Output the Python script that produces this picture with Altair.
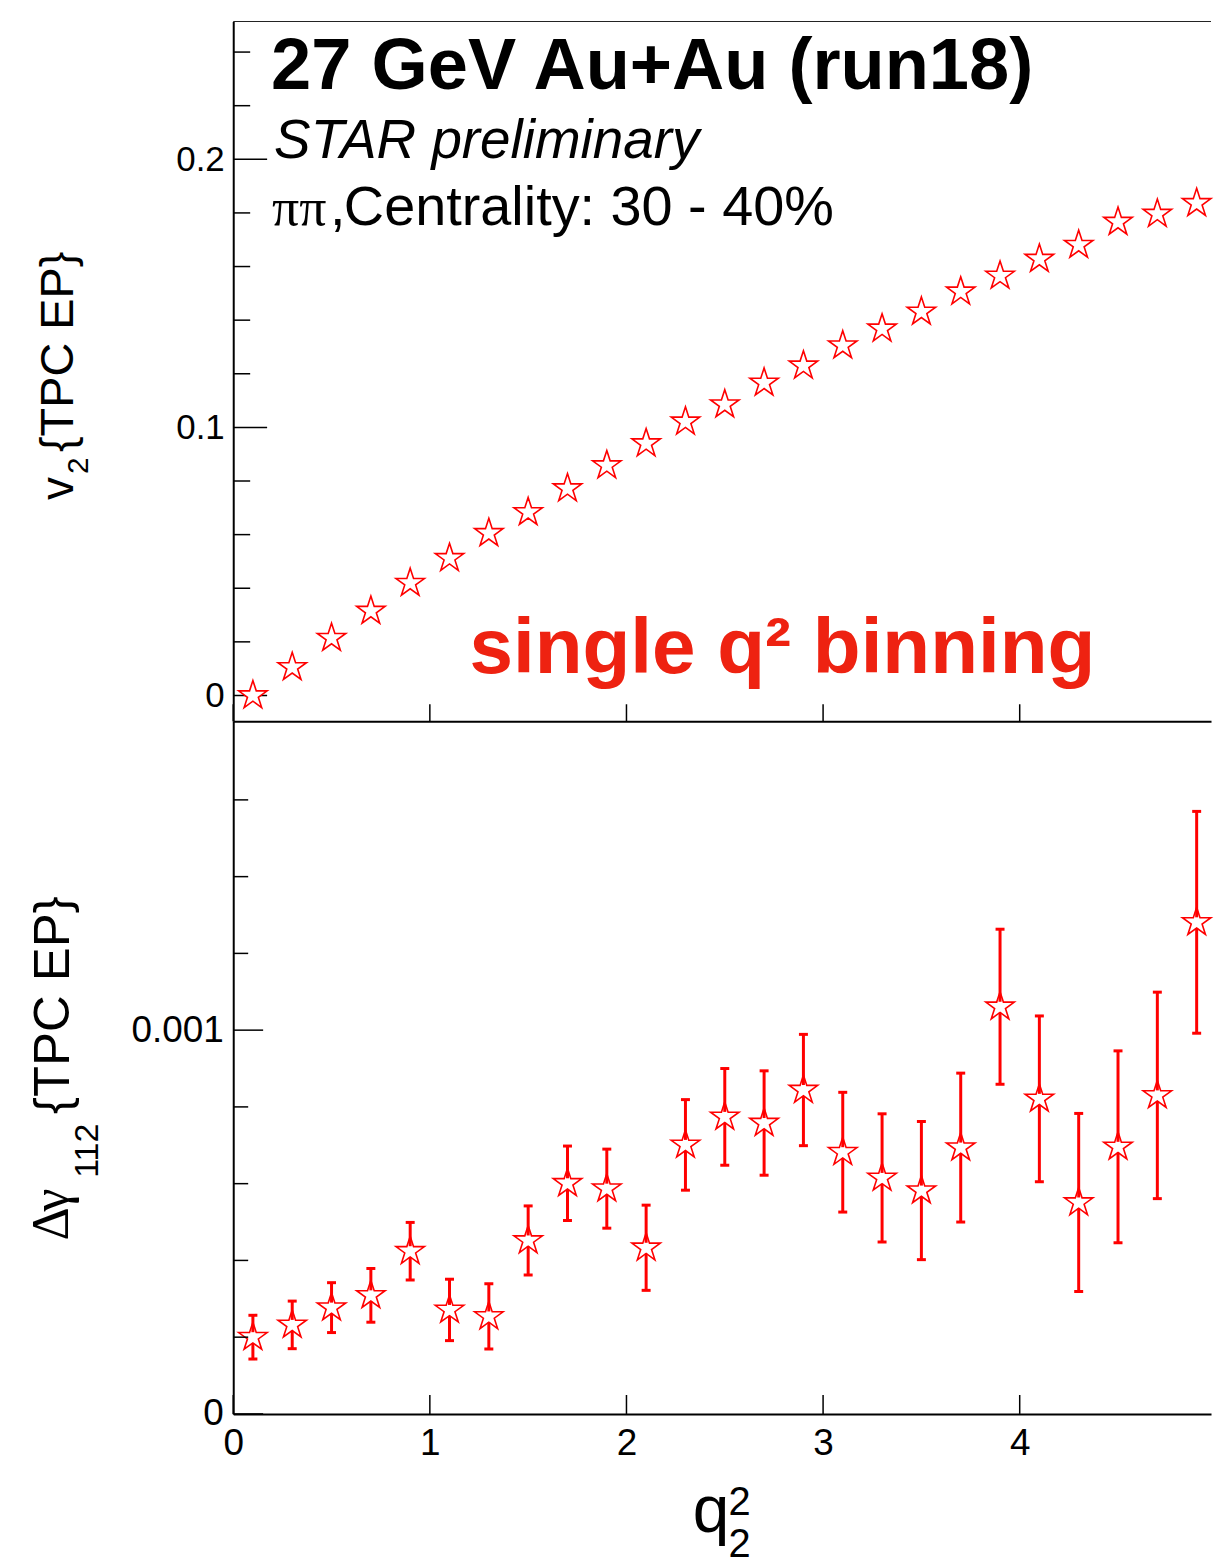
import altair as alt
import pandas as pd

# ---- data -------------------------------------------------------------
q2 = [0.1, 0.3, 0.5, 0.7, 0.9, 1.1, 1.3, 1.5, 1.7, 1.9, 2.1, 2.3, 2.5,
      2.7, 2.9, 3.1, 3.3, 3.5, 3.7, 3.9, 4.1, 4.3, 4.5, 4.7, 4.9]

v2 = [0.0000, 0.0105, 0.0214, 0.0315, 0.0419, 0.0512, 0.0605, 0.0683,
      0.0772, 0.0858, 0.0940, 0.1021, 0.1085, 0.1166, 0.1230, 0.1305,
      0.1368, 0.1431, 0.1506, 0.1565, 0.1628, 0.1680, 0.1766, 0.1796,
      0.1836]

dgamma = [0.000200, 0.000232, 0.000277, 0.000309, 0.000424, 0.000271,
          0.000254, 0.000452, 0.000601, 0.000587, 0.000433, 0.000701,
          0.000774, 0.000758, 0.000844, 0.000682, 0.000615, 0.000582,
          0.000694, 0.001061, 0.000821, 0.000551, 0.000696, 0.000830,
          0.001281]

dgamma_err = [0.000057, 0.000062, 0.000065, 0.000070, 0.000075, 0.000080,
              0.000085, 0.000090, 0.000097, 0.000103, 0.000111, 0.000118,
              0.000126, 0.000136, 0.000145, 0.000156, 0.000167, 0.000180,
              0.000194, 0.000202, 0.000216, 0.000232, 0.000250, 0.000269,
              0.000289]

x_ticks = [0, 1, 2, 3, 4]
v2_major = [0.0, 0.1, 0.2]
v2_minor = [0.02, 0.04, 0.06, 0.08, 0.12, 0.14, 0.16, 0.18, 0.22, 0.24]
dg_major = [0.0, 0.001]
dg_minor = [0.0002, 0.0004, 0.0006, 0.0008, 0.0012, 0.0014, 0.0016]

# ---- style ------------------------------------------------------------
FONT = "Liberation Sans"
SERIF = "Liberation Serif"
RED = "#ff0000"
LABEL_RED = "#ee2211"
STAR = ("M0,-1L0.2245,-0.309L0.9511,-0.309L0.3633,0.118L0.5878,0.809"
        "L0,0.382L-0.5878,0.809L-0.3633,0.118L-0.9511,-0.309L-0.2245,-0.309Z")

W = 981
H_TOP = 702
H_BOT = 695
x_scale = alt.Scale(domain=[0, 4.973], nice=False, zero=False)
v2_scale = alt.Scale(domain=[-0.0096, 0.2514], nice=False, zero=False)
dg_scale = alt.Scale(domain=[0, 0.001805], nice=False, zero=False)

top_x_axis = alt.Axis(labels=False, ticks=False, tickSize=0, grid=False,
                      title=None, domainColor="black", domainWidth=2)
top_y_axis = alt.Axis(values=v2_major, format=".1~f", ticks=False,
                      tickSize=0, grid=False, title=None, labelFontSize=35,
                      labelPadding=9, domainColor="black", domainWidth=2)
bot_x_axis = alt.Axis(values=x_ticks, format="d", ticks=False, tickSize=0,
                      grid=False, title=None, labelFontSize=37,
                      labelPadding=12, labelFlush=False,
                      domainColor="black", domainWidth=2)
bot_y_axis = alt.Axis(values=dg_major, format=".3~f", ticks=False,
                      tickSize=0, grid=False, title=None, labelFontSize=37,
                      labelPadding=10, domainColor="black", domainWidth=2)

top_df = pd.DataFrame({"q2": q2, "v2": v2})
bot_df = pd.DataFrame({
    "q2": q2,
    "dg": dgamma,
    "hi": [v + e for v, e in zip(dgamma, dgamma_err)],
    "lo": [v - e for v, e in zip(dgamma, dgamma_err)],
})


def text(label, x, y, size, font=FONT, angle=0, color="black",
         weight="normal", style="normal"):
    return alt.Chart(pd.DataFrame({"label": [label]})).mark_text(
        font=font, fontSize=size, angle=angle, color=color,
        fontWeight=weight, fontStyle=style, align="left",
        baseline="alphabetic",
    ).encode(x=alt.value(x), y=alt.value(y), text="label:N")


def y_ticks(values, scale, axis, length):
    return alt.Chart(pd.DataFrame({"v": values})).mark_rule(
        color="black", strokeWidth=1.5
    ).encode(
        y=alt.Y("v:Q", scale=scale, axis=axis),
        x=alt.value(0), x2=alt.value(length),
    )


def x_ticks_layer(axis, height, length):
    return alt.Chart(pd.DataFrame({"t": x_ticks})).mark_rule(
        color="black", strokeWidth=1.5
    ).encode(
        x=alt.X("t:Q", scale=x_scale, axis=axis),
        y=alt.value(height), y2=alt.value(height - length),
    )


# ---- upper panel: v2 -------------------------------------------------
v2_points = alt.Chart(top_df).mark_point(
    shape=STAR, size=900, filled=True, fill="white", stroke=RED,
    strokeWidth=1.6, opacity=1,
).encode(
    x=alt.X("q2:Q", scale=x_scale, axis=top_x_axis),
    y=alt.Y("v2:Q", scale=v2_scale, axis=top_y_axis),
)

# white rule far up-left fixes the page origin of the plot frame
anchor = alt.Chart(pd.DataFrame({"a": [0]})).mark_rule(
    color="white", strokeWidth=0.01
).encode(x=alt.value(-233), x2=alt.value(-232), y=alt.value(-18))

# upper frame edge
frame_top = alt.Chart(pd.DataFrame({"a": [0]})).mark_rule(
    color="#222222", strokeWidth=1
).encode(x=alt.value(0), x2=alt.value(W), y=alt.value(0))

top = alt.layer(
    anchor,
    frame_top,
    y_ticks(v2_major, v2_scale, top_y_axis, 34),
    y_ticks(v2_minor, v2_scale, top_y_axis, 17),
    x_ticks_layer(top_x_axis, H_TOP, 17),
    v2_points,
    text("27 GeV Au+Au (run18)", 38, 68, 72.5, weight="bold"),
    text("STAR preliminary", 41, 137, 55, style="italic"),
    text("\u03c0\u03c0", 39, 204, 54, font=SERIF),
    text(",", 97, 204, 56),
    text("Centrality: 30 - 40%", 111, 204, 56),
    text("single q\u00b2 binning", 237, 654, 78.5, color=LABEL_RED,
         weight="bold"),
    text("v", -161, 480, 46, angle=270),
    text("2", -146, 454, 30, angle=270),
    text("{TPC EP}", -161, 432, 47, angle=270),
).properties(width=W, height=H_TOP)

# ---- lower panel: delta gamma ----------------------------------------
dg_points = alt.Chart(bot_df).mark_point(
    shape=STAR, size=900, filled=True, fill="white", stroke=RED,
    strokeWidth=1.6, opacity=1,
).encode(
    x=alt.X("q2:Q", scale=x_scale, axis=bot_x_axis),
    y=alt.Y("dg:Q", scale=dg_scale, axis=bot_y_axis),
)

err_up = alt.Chart(bot_df).mark_rule(
    color=RED, strokeWidth=3, y2Offset=-5
).encode(
    x=alt.X("q2:Q", scale=x_scale, axis=bot_x_axis),
    y=alt.Y("hi:Q", scale=dg_scale, axis=bot_y_axis),
    y2="dg:Q",
)
err_down = alt.Chart(bot_df).mark_rule(
    color=RED, strokeWidth=3, yOffset=6
).encode(
    x=alt.X("q2:Q", scale=x_scale, axis=bot_x_axis),
    y=alt.Y("dg:Q", scale=dg_scale, axis=bot_y_axis),
    y2="lo:Q",
)
cap_up = alt.Chart(bot_df).mark_tick(
    color=RED, orient="horizontal", size=9, thickness=3, opacity=1
).encode(
    x=alt.X("q2:Q", scale=x_scale, axis=bot_x_axis),
    y=alt.Y("hi:Q", scale=dg_scale, axis=bot_y_axis),
)
cap_down = alt.Chart(bot_df).mark_tick(
    color=RED, orient="horizontal", size=9, thickness=3, opacity=1
).encode(
    x=alt.X("q2:Q", scale=x_scale, axis=bot_x_axis),
    y=alt.Y("lo:Q", scale=dg_scale, axis=bot_y_axis),
)

bottom = alt.layer(
    dg_points,
    y_ticks(dg_major, dg_scale, bot_y_axis, 30),
    y_ticks(dg_minor, dg_scale, bot_y_axis, 15),
    x_ticks_layer(bot_x_axis, H_BOT, 19),
    err_up, err_down, cap_up, cap_down,
    text("\u0394", -166, 521, 52, font=SERIF, angle=270),
    text("\u03b3", -166, 492, 52, font=SERIF, angle=270),
    text("112", -136, 458, 34, angle=270),
    text("{TPC EP}", -165, 394, 51, angle=270),
    text("q", 461, 813, 66),
    text("2", 497, 796, 40),
    text("2", 497, 839, 40),
).properties(width=W, height=H_BOT)

chart = alt.vconcat(top, bottom, spacing=0, bounds="flush").properties(
    padding=0
).configure_view(
    strokeWidth=0
).configure_axis(
    labelFont=FONT, labelColor="black"
)

chart.save("out.html", embed_options={"renderer": "svg", "actions": False})
